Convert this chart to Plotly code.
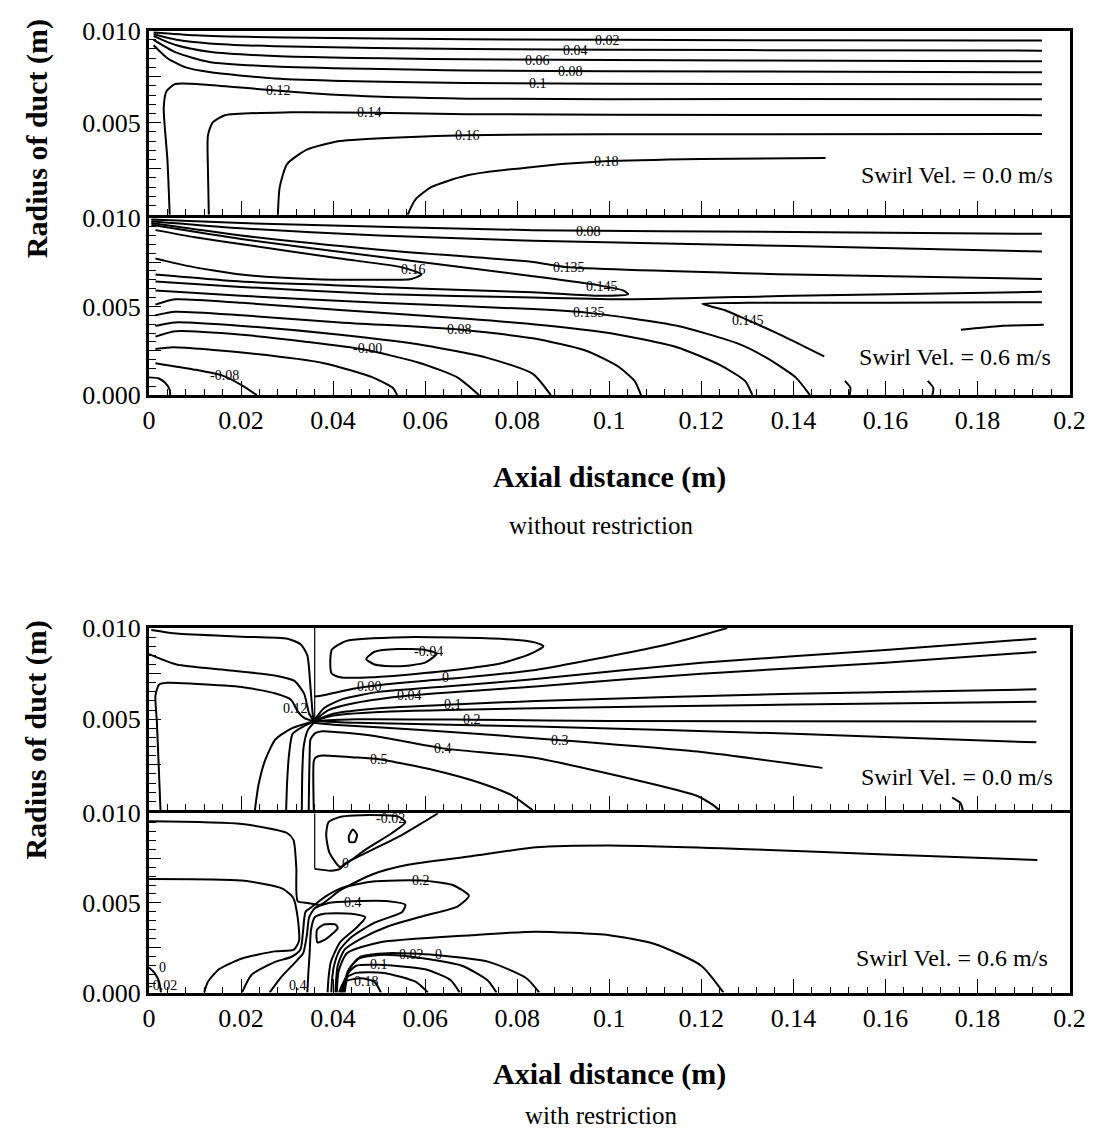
import plotly.graph_objects as go

# ---------------------------------------------------------------------------
# Axial-velocity contour lines (x = axial distance in m, r = radius in m)
# ---------------------------------------------------------------------------

# Panel A : without restriction, swirl 0.0 m/s
A_002 = [(0.001, 0.0099), (0.01, 0.00975), (0.03, 0.00962), (0.069, 0.00953), (0.13, 0.00948), (0.194, 0.00946)]
A_004 = [(0.001, 0.0098), (0.006, 0.0095), (0.0131, 0.0093), (0.0273, 0.00915), (0.069, 0.0090), (0.13, 0.00894), (0.194, 0.00891)]
A_006 = [(0.001, 0.0097), (0.006, 0.0092), (0.0131, 0.00885), (0.0273, 0.00862), (0.069, 0.00844), (0.13, 0.00838), (0.194, 0.00833)]
A_008 = [(0.001, 0.0095), (0.006, 0.0088), (0.0131, 0.0083), (0.0273, 0.00805), (0.069, 0.00783), (0.13, 0.00778), (0.194, 0.00774)]
A_010 = [(0.001, 0.0092), (0.004, 0.0085), (0.008, 0.0080), (0.0131, 0.00775), (0.0273, 0.0074), (0.069, 0.00715), (0.13, 0.0071), (0.194, 0.00708)]
A_012 = [(0.0045, 0.0), (0.0040, 0.003), (0.0032, 0.0058), (0.0038, 0.0067), (0.0057, 0.0071), (0.013, 0.00705), (0.025, 0.0068), (0.0415, 0.0065), (0.069, 0.0063), (0.13, 0.00628), (0.194, 0.00627)]
A_014 = [(0.013, 0.0), (0.0128, 0.0025), (0.0128, 0.0043), (0.0138, 0.0050), (0.0165, 0.0054), (0.0309, 0.00556), (0.0486, 0.00554), (0.069, 0.00546), (0.13, 0.00542), (0.194, 0.00541)]
A_016 = [(0.028, 0.0), (0.0284, 0.0015), (0.030, 0.00275), (0.0344, 0.00355), (0.0415, 0.0040), (0.0557, 0.00421), (0.069, 0.00432), (0.1, 0.00437), (0.194, 0.00439)]
A_018 = [(0.0562, 0.0), (0.0578, 0.0008), (0.0613, 0.0015), (0.069, 0.00213), (0.0834, 0.0026), (0.099, 0.0029), (0.12, 0.00303), (0.147, 0.00308)]
A_LINES = [A_002, A_004, A_006, A_008, A_010, A_012, A_014, A_016, A_018]
A_LABELS = [(0.0996, 0.00946, "0.02"), (0.0926, 0.00892, "0.04"), (0.0845, 0.0084, "0.06"),
            (0.0915, 0.00779, "0.08"), (0.0845, 0.00712, "0.1"), (0.0281, 0.00672, "0.12"),
            (0.0479, 0.00555, "0.14"), (0.0691, 0.00432, "0.16"), (0.0994, 0.0029, "0.18")]

# Panel B : without restriction, swirl 0.6 m/s
B_008 = [(0.0005, 0.0099), (0.02, 0.0097), (0.0834, 0.0093), (0.14, 0.0092), (0.194, 0.00909)]
B_R2 = [(0.0005, 0.0098), (0.02, 0.0094), (0.05, 0.0090), (0.0834, 0.0087), (0.14, 0.0084), (0.194, 0.00809)]
B_135U = [(0.0005, 0.0097), (0.02, 0.0090), (0.05, 0.0082), (0.0834, 0.0075), (0.0905, 0.00722), (0.14, 0.0068), (0.194, 0.00655)]
B_145A = [(0.0005, 0.0096), (0.02, 0.0088), (0.05, 0.0078), (0.0834, 0.0067), (0.0975, 0.0062), (0.103, 0.0059), (0.1041, 0.00569),
          (0.098, 0.0056), (0.0834, 0.0058), (0.06, 0.0060), (0.04, 0.0062), (0.02, 0.0064), (0.006, 0.0067), (0.0014, 0.0068)]
B_016 = [(0.0014, 0.0093), (0.01, 0.0089), (0.0202, 0.0085), (0.0415, 0.0077), (0.055, 0.0072), (0.0592, 0.0068),
         (0.057, 0.00655), (0.048, 0.0065), (0.035, 0.00655), (0.02, 0.0068), (0.008, 0.0073), (0.003, 0.0076), (0.0014, 0.0077)]
B_R582 = [(0.0014, 0.0064), (0.02, 0.0061), (0.05, 0.0057), (0.0834, 0.0055), (0.1041, 0.0054), (0.14, 0.0056), (0.194, 0.00582)]
B_145B = [(0.194, 0.00524), (0.16, 0.0052), (0.13, 0.0052), (0.1202, 0.00515), (0.125, 0.0048), (0.1295, 0.0043), (0.138, 0.0033), (0.1467, 0.00218)]
B_135L = [(0.0014, 0.0059), (0.02, 0.0056), (0.05, 0.0052), (0.0834, 0.00485), (0.0952, 0.00465), (0.1147, 0.00391), (0.128, 0.0029),
          (0.1342, 0.0021), (0.1405, 0.001), (0.1436, 0.0)]
B_131 = [(0.0014, 0.0051), (0.0057, 0.0054), (0.0202, 0.0052), (0.0415, 0.0048), (0.069, 0.0043), (0.0834, 0.0040), (0.1, 0.0035),
         (0.1147, 0.0027), (0.124, 0.0017), (0.1295, 0.0008), (0.1311, 0.0)]
B_107 = [(0.0014, 0.0045), (0.0057, 0.0047), (0.0202, 0.0045), (0.0415, 0.0041), (0.0674, 0.0037), (0.0834, 0.0032), (0.095, 0.0025),
         (0.102, 0.0016), (0.1055, 0.0008), (0.1069, 0.0)]
B_087 = [(0.0014, 0.0039), (0.0057, 0.0041), (0.0202, 0.0039), (0.0415, 0.0034), (0.06, 0.0028), (0.0735, 0.0021), (0.0834, 0.0012), (0.0873, 0.0)]
B_072 = [(0.0014, 0.0033), (0.0057, 0.0036), (0.0202, 0.0034), (0.0344, 0.0030), (0.0465, 0.00258), (0.059, 0.0018), (0.067, 0.0010), (0.0717, 0.0)]
B_054 = [(0.0014, 0.0026), (0.0053, 0.0027), (0.0202, 0.0024), (0.038, 0.0018), (0.0486, 0.0010), (0.053, 0.0004), (0.0539, 0.0)]
B_023 = [(0.0014, 0.0018), (0.0096, 0.00145), (0.016, 0.0011), (0.0202, 0.00055), (0.0234, 0.0)]
B_ARC = [(0.0, 0.001), (0.002, 0.00095), (0.0035, 0.0007), (0.0045, 0.0003), (0.0046, 0.0)]
B_TAIL = [(0.1764, 0.00369), (0.185, 0.0039), (0.1944, 0.00396)]
B_HOOK1 = [(0.1512, 0.0008), (0.1524, 0.0004), (0.1522, 0.0)]
B_HOOK2 = [(0.1692, 0.0008), (0.1704, 0.0004), (0.1702, 0.0)]
B_LINES = [B_008, B_R2, B_135U, B_145A, B_016, B_R582, B_145B, B_135L, B_131, B_107, B_087, B_072, B_054, B_023,
           B_ARC, B_TAIL, B_HOOK1, B_HOOK2]
B_LABELS = [(0.0955, 0.0092, "0.08"), (0.0574, 0.0071, "0.16"), (0.0912, 0.0072, "0.135"), (0.0985, 0.0061, "0.145"),
            (0.0957, 0.00468, "0.135"), (0.1302, 0.0042, "0.145"), (0.0674, 0.0037, "0.08"), (0.0475, 0.0026, "-0.00"),
            (0.0164, 0.0011, "-0.08")]

# Panel C : with restriction, swirl 0.0 m/s
C_TOP = [(0.0005, 0.0099), (0.006, 0.0097), (0.0202, 0.00953), (0.0301, 0.00941), (0.0330, 0.0091), (0.0344, 0.0085),
         (0.0351, 0.0067), (0.0356, 0.0052), (0.0358, 0.0049)]
C_2 = [(0.0, 0.00857), (0.006, 0.0080), (0.0167, 0.0077), (0.0273, 0.0074), (0.0316, 0.0071), (0.0337, 0.0064), (0.0348, 0.0053), (0.0358, 0.0049)]
C_012 = [(0.0025, 0.0), (0.0021, 0.0025), (0.0017, 0.0049), (0.0014, 0.0063), (0.0022, 0.0069), (0.0039, 0.0070), (0.0096, 0.00695),
         (0.0202, 0.00677), (0.0273, 0.00642), (0.0309, 0.00606), (0.0323, 0.00543), (0.0337, 0.00507), (0.0358, 0.00489)]
C_D1 = [(0.0358, 0.00489), (0.031, 0.0045), (0.0275, 0.0039), (0.0253, 0.0028), (0.0238, 0.0014), (0.023, 0.0)]
C_D2 = [(0.0358, 0.00485), (0.0335, 0.0046), (0.0312, 0.0042), (0.0304, 0.0030), (0.0300, 0.0015), (0.0298, 0.0)]
C_D3 = [(0.0358, 0.0048), (0.0345, 0.0044), (0.0336, 0.0035), (0.0333, 0.0020), (0.0332, 0.0)]
C_NEG04 = [(0.0472, 0.0083), (0.049, 0.0087), (0.054, 0.00885), (0.06, 0.0088), (0.0625, 0.0086), (0.060, 0.0081),
           (0.054, 0.0079), (0.049, 0.0080), (0.0472, 0.0083)]
C_NEG02 = [(0.0394, 0.0079), (0.0397, 0.0088), (0.0429, 0.0093), (0.0557, 0.0095), (0.077, 0.0094), (0.084, 0.0092),
           (0.0857, 0.0090), (0.083, 0.0086), (0.077, 0.0081), (0.0628, 0.0076), (0.0486, 0.0073), (0.0415, 0.0073),
           (0.0397, 0.0075), (0.0394, 0.0079)]
C_000 = [(0.036, 0.00625), (0.0376, 0.0063), (0.045, 0.0067), (0.055, 0.0070), (0.0645, 0.0072), (0.084, 0.0077),
         (0.099, 0.0084), (0.1108, 0.0090), (0.1186, 0.0095), (0.1256, 0.01)]
C_002 = [(0.0358, 0.0049), (0.038, 0.0056), (0.042, 0.0061), (0.05, 0.0065), (0.0645, 0.0068), (0.084, 0.0072), (0.12, 0.0081),
         (0.16, 0.0088), (0.1928, 0.00942)]
C_004 = [(0.0358, 0.0049), (0.039, 0.0055), (0.045, 0.0059), (0.0565, 0.0063), (0.084, 0.0068), (0.12, 0.0075), (0.16, 0.0081), (0.1928, 0.00869)]
C_010 = [(0.0358, 0.0049), (0.04, 0.0053), (0.05, 0.0056), (0.066, 0.0058), (0.084, 0.0060), (0.14, 0.0064), (0.1928, 0.00664)]
C_015 = [(0.0358, 0.0049), (0.04, 0.0052), (0.05, 0.0054), (0.084, 0.0056), (0.14, 0.0058), (0.1928, 0.00596)]
C_020 = [(0.0358, 0.0049), (0.045, 0.0050), (0.0702, 0.00497), (0.1, 0.0049), (0.1928, 0.00487)]
C_025 = [(0.0358, 0.0049), (0.045, 0.0048), (0.084, 0.0046), (0.14, 0.0042), (0.1928, 0.00373)]
C_030 = [(0.0358, 0.0048), (0.04, 0.0047), (0.06, 0.0044), (0.0894, 0.00385), (0.12, 0.0032), (0.1463, 0.00233)]
C_040 = [(0.0347, 0.0), (0.0349, 0.0030), (0.0351, 0.0039), (0.0362, 0.00425), (0.0377, 0.00434), (0.0486, 0.00409),
         (0.0638, 0.0034), (0.0834, 0.0029), (0.1069, 0.0016), (0.119, 0.0008), (0.1225, 0.0003), (0.124, 0.0)]
C_050 = [(0.0358, 0.0), (0.0358, 0.0027), (0.0362, 0.0029), (0.0372, 0.0030), (0.045, 0.0029), (0.05, 0.0028), (0.062, 0.0022),
         (0.072, 0.0015), (0.079, 0.0008), (0.0834, 0.0)]
C_HOOK = [(0.1745, 0.0007), (0.1763, 0.0004), (0.1768, 0.0)]
C_LINES = [C_TOP, C_2, C_012, C_D1, C_D2, C_D3, C_NEG04, C_NEG02, C_000, C_002, C_004, C_010, C_015, C_020, C_025,
           C_030, C_040, C_050, C_HOOK]
C_WALL = [(0.036, 0.01), (0.036, 0.0049)]
C_LABELS = [(0.0607, 0.0087, "-0.04"), (0.0479, 0.0068, "0.00"), (0.0645, 0.0073, "0"), (0.0565, 0.0063, "0.04"),
            (0.066, 0.0058, "0.1"), (0.0702, 0.00497, "0.2"), (0.0638, 0.0034, "0.4"), (0.0500, 0.0028, "0.5"),
            (0.0894, 0.00385, "0.3"), (0.0319, 0.0056, "0.12")]

# Panel D : with restriction, swirl 0.6 m/s
D_TOP = [(0.0, 0.00955), (0.0202, 0.0094), (0.0300, 0.0089), (0.0314, 0.0085), (0.0320, 0.0070), (0.0323, 0.0051),
         (0.0345, 0.0050), (0.0372, 0.0049), (0.0415, 0.0057), (0.0486, 0.0066), (0.0557, 0.0071), (0.07, 0.0076),
         (0.084, 0.0081), (0.1, 0.0082), (0.13, 0.0080), (0.16, 0.0077), (0.193, 0.0074)]
D_LEFT = [(0.0, 0.00634), (0.0202, 0.00625), (0.029, 0.0058), (0.0313, 0.0053), (0.0323, 0.0042), (0.0326, 0.0029),
          (0.0315, 0.0024), (0.0273, 0.0023), (0.0202, 0.0019), (0.0152, 0.0013), (0.0128, 0.0006), (0.0120, 0.0)]
D_NEG02 = [(0.0415, 0.0070), (0.0392, 0.0078), (0.0385, 0.0088), (0.039, 0.0095), (0.0415, 0.0098), (0.048, 0.0099),
           (0.0543, 0.0098), (0.0557, 0.0095), (0.0528, 0.0089), (0.0472, 0.0080), (0.0429, 0.0072), (0.0415, 0.0070)]
D_EYE = [(0.0434, 0.0087), (0.0443, 0.0091), (0.0452, 0.0088), (0.0447, 0.0084), (0.0436, 0.0084), (0.0434, 0.0087)]
D_000 = [(0.036, 0.0069), (0.0395, 0.0068), (0.0415, 0.0069), (0.0426, 0.0072), (0.048, 0.0079), (0.055, 0.0088),
         (0.0596, 0.0095), (0.0628, 0.01)]
D_020 = [(0.0202, 0.0), (0.0223, 0.001), (0.0273, 0.0017), (0.031, 0.0020), (0.0329, 0.0024), (0.0335, 0.0035), (0.034, 0.0045),
         (0.0355, 0.0048), (0.038, 0.0053), (0.0415, 0.0058), (0.0486, 0.0062), (0.0592, 0.00625), (0.066, 0.0060),
         (0.0695, 0.0054), (0.067, 0.0048), (0.06, 0.0043), (0.052, 0.0037), (0.046, 0.0030), (0.0425, 0.0024),
         (0.0410, 0.0015), (0.0405, 0.0)]
D_040 = [(0.0262, 0.0), (0.0285, 0.0008), (0.0318, 0.0017), (0.0335, 0.0022), (0.0343, 0.0032), (0.0348, 0.0042),
         (0.036, 0.0047), (0.039, 0.0050), (0.0443, 0.0051), (0.052, 0.0051), (0.0557, 0.0049), (0.055, 0.0045),
         (0.049, 0.0039), (0.044, 0.0031), (0.0415, 0.0024), (0.0402, 0.0015), (0.0398, 0.0008), (0.0396, 0.0)]
D_050 = [(0.0344, 0.0), (0.0346, 0.001), (0.0349, 0.0022), (0.0352, 0.0035), (0.036, 0.0042), (0.038, 0.0044),
         (0.044, 0.0044), (0.047, 0.0042), (0.045, 0.0036), (0.0415, 0.0028), (0.0395, 0.0017), (0.0390, 0.0008), (0.0388, 0.0)]
D_CORE = [(0.0365, 0.0035), (0.038, 0.0038), (0.0405, 0.0038), (0.041, 0.0036), (0.0385, 0.0030), (0.0366, 0.0028), (0.0365, 0.0035)]
D_LONG = [(0.0408, 0.0), (0.0412, 0.0012), (0.043, 0.0022), (0.05, 0.0028), (0.07, 0.0032), (0.084, 0.0034), (0.1, 0.0032),
          (0.11, 0.0027), (0.12, 0.0015), (0.1248, 0.0)]
D_Z0 = [(0.0425, 0.0), (0.0435, 0.0013), (0.046, 0.0020), (0.052, 0.0022), (0.0621, 0.0021), (0.074, 0.0017), (0.082, 0.0008), (0.0848, 0.0)]
D_Z02 = [(0.0422, 0.0), (0.0432, 0.0012), (0.0455, 0.0019), (0.05, 0.0021), (0.057, 0.0020), (0.068, 0.0015), (0.0735, 0.0007), (0.0755, 0.0)]
D_Z10 = [(0.0419, 0.0), (0.043, 0.0010), (0.045, 0.0015), (0.05, 0.00155), (0.06, 0.0013), (0.0655, 0.0007), (0.0675, 0.0)]
D_Z14 = [(0.0416, 0.0), (0.0427, 0.0008), (0.045, 0.0011), (0.051, 0.0011), (0.058, 0.0006), (0.0606, 0.0)]
D_Z18 = [(0.0413, 0.0), (0.0424, 0.0006), (0.046, 0.0008), (0.049, 0.0006), (0.0504, 0.0)]
D_CORNER = [(0.0, 0.0014), (0.0012, 0.0011), (0.0022, 0.0006), (0.0026, 0.0)]
D_LINES = [D_TOP, D_LEFT, D_NEG02, D_EYE, D_000, D_020, D_040, D_050, D_CORE, D_LONG, D_Z0, D_Z02, D_Z10, D_Z14, D_Z18, D_CORNER]
D_WALL = [(0.036, 0.01), (0.036, 0.0069)]
D_LABELS = [(0.0525, 0.0097, "-0.02"), (0.0426, 0.0072, "0"), (0.0592, 0.00625, "0.2"), (0.0443, 0.0050, "0.4"),
            (0.057, 0.0021, "0.02"), (0.0628, 0.0021, "0"), (0.05, 0.00155, "0.1"), (0.0472, 0.0006, "0.18"),
            (0.0323, 0.0004, "0.4"), (0.0030, 0.0004, "-0.02"), (0.0030, 0.0014, "0")]

X_TICKS = [0.0, 0.02, 0.04, 0.06, 0.08, 0.1, 0.12, 0.14, 0.16, 0.18, 0.2]
X_TICKTEXT = ["0", "0.02", "0.04", "0.06", "0.08", "0.1", "0.12", "0.14", "0.16", "0.18", "0.2"]
Y_TICKS = [0.0, 0.0025, 0.005, 0.0075, 0.01]
Y_TICKTEXT_LOWER = ["0.000", "", "0.005", "", "0.010"]
Y_TICKTEXT_UPPER = ["", "", "0.005", "", "0.010"]
SWIRL_TEXT = ["Swirl Vel. = 0.0 m/s", "Swirl Vel. = 0.6 m/s", "Swirl Vel. = 0.0 m/s", "Swirl Vel. = 0.6 m/s"]
CAPTIONS = ["without restriction", "with restriction"]

# ---------------------------------------------------------------------------
W, H = 1111, 1147
SERIF = "Liberation Serif, Times New Roman, serif"
PLOT_LEFT, PLOT_RIGHT = 145, 1085
BORDER = 3
# top / bottom pixel rows of each panel; the lower panel of a pair starts one
# border width lower so the shared frame line is drawn only once
PANEL_ROWS = [(17, 206), (206 + BORDER, 391), (630, 817), (817 + BORDER, 1004)]


def px_x(p):
    return p / W


def px_y(p):
    return 1 - p / H


fig = go.Figure()

panels = [(A_LINES, A_LABELS, None), (B_LINES, B_LABELS, None), (C_LINES, C_LABELS, C_WALL), (D_LINES, D_LABELS, D_WALL)]
annotations = []
for i, (lines, labels, wall) in enumerate(panels):
    xa = "x" if i == 0 else f"x{i + 1}"
    ya = "y" if i == 0 else f"y{i + 1}"
    for ln in lines:
        fig.add_trace(go.Scatter(
            x=[p[0] for p in ln], y=[p[1] for p in ln], mode="lines",
            line=dict(color="black", width=2, shape="spline", smoothing=0.6),
            xaxis=xa, yaxis=ya, hoverinfo="skip", showlegend=False))
    if wall is not None:
        fig.add_trace(go.Scatter(
            x=[p[0] for p in wall], y=[p[1] for p in wall], mode="lines",
            line=dict(color="black", width=1.2), xaxis=xa, yaxis=ya, hoverinfo="skip", showlegend=False))
    for (lx, ly, txt) in labels:
        annotations.append(dict(x=lx, y=ly, xref=xa, yref=ya, text=txt, showarrow=False,
                                font=dict(family=SERIF, size=14, color="black")))

layout = dict(width=W, height=H, margin=dict(l=0, r=0, t=0, b=0), autosize=False,
              paper_bgcolor="white", plot_bgcolor="white", showlegend=False)

for i, (top, bot) in enumerate(PANEL_ROWS):
    xk = "xaxis" if i == 0 else f"xaxis{i + 1}"
    yk = "yaxis" if i == 0 else f"yaxis{i + 1}"
    ya = "y" if i == 0 else f"y{i + 1}"
    xa = "x" if i == 0 else f"x{i + 1}"
    lower = i in (1, 3)
    layout[xk] = dict(
        domain=[px_x(PLOT_LEFT), px_x(PLOT_RIGHT)], anchor=ya, range=[0, 0.2],
        showline=True, linewidth=BORDER, linecolor="black", mirror=True,
        showgrid=False, zeroline=False,
        ticks="inside", tickvals=X_TICKS, ticktext=X_TICKTEXT, ticklen=14, tickwidth=1.2, tickcolor="black",
        minor=dict(ticks="inside", dtick=0.004, tick0=0, ticklen=6, tickwidth=1, tickcolor="black", showgrid=False),
        showticklabels=lower, tickfont=dict(family=SERIF, size=26, color="black"))
    layout[yk] = dict(
        domain=[px_y(bot), px_y(top)], anchor=xa, range=[0, 0.01],
        showline=True, linewidth=BORDER, linecolor="black", mirror=True,
        showgrid=False, zeroline=False,
        ticks="inside", ticklen=12, tickwidth=1.2, tickcolor="black",
        tickvals=Y_TICKS, ticktext=Y_TICKTEXT_LOWER if lower else Y_TICKTEXT_UPPER,
        minor=dict(ticks="inside", dtick=0.0005, tick0=0, ticklen=7, tickwidth=1, tickcolor="black", showgrid=False),
        tickfont=dict(family=SERIF, size=26, color="black"))

# swirl-velocity captions inside each panel
swirl_pos = [(1070, 165), (1068, 352), (1070, 783), (1065, 968)]
for txt, (sx, sy) in zip(SWIRL_TEXT, swirl_pos):
    annotations.append(dict(x=px_x(sx), y=px_y(sy), xref="paper", yref="paper", text=txt, showarrow=False,
                            xanchor="right", yanchor="middle", font=dict(family=SERIF, size=24, color="black")))

# axis titles and figure captions
for cy, ty, cap, yty in [(475, 525, CAPTIONS[0], 128), (1087, 1130, CAPTIONS[1], 745)]:
    annotations.append(dict(x=px_x(615), y=px_y(cy), xref="paper", yref="paper", text="<b>Axial distance (m)</b>",
                            showarrow=False, xanchor="center", yanchor="middle",
                            font=dict(family=SERIF, size=30, color="black")))
    annotations.append(dict(x=px_x(607), y=px_y(ty), xref="paper", yref="paper", text=cap,
                            showarrow=False, xanchor="center", yanchor="middle",
                            font=dict(family=SERIF, size=25, color="black")))
    annotations.append(dict(x=px_x(30), y=px_y(yty), xref="paper", yref="paper", text="<b>Radius of duct (m)</b>",
                            showarrow=False, xanchor="center", yanchor="middle", textangle=-90,
                            font=dict(family=SERIF, size=30, color="black")))

layout["annotations"] = annotations
fig.update_layout(**layout)
fig.write_html("out.html")
